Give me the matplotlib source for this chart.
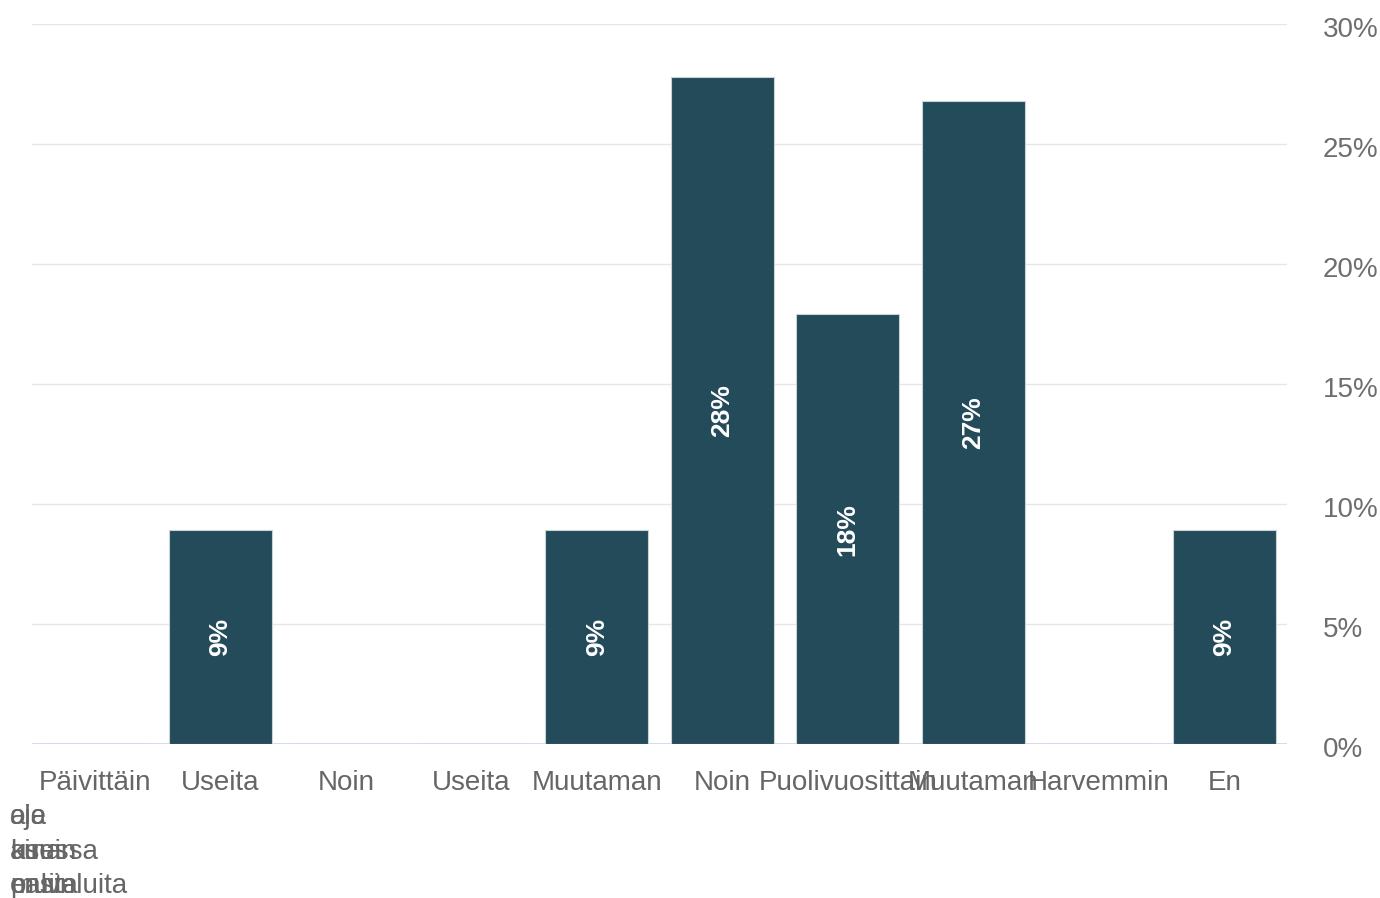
import matplotlib.pyplot as plt
import matplotlib.transforms as mtransforms

plt.rcParams['font.family'] = ['Liberation Sans', 'DejaVu Sans']

# data
luokat = ["Päivittäin", "Useita", "Noin", "Useita", "Muutaman",
          "Noin", "Puolivuosittain", "Muutaman", "Harvemmin", "En"]
osuudet = [0, 8.9, 0, 0, 8.9, 27.8, 17.9, 26.8, 0, 8.9]
tikit = [0, 5, 10, 15, 20, 25, 30]
# jatkorivit, jotka piirtyvät päällekkäin vasempaan reunaan
rivi2 = ["ole", "aja"]
rivi3 = ["usein", "aina", "kuussa"]
rivi4 = ["ensin", "muita", "palveluita"]

vari_palkki = '#234b5a'
vari_teksti = '#666666'

fig = plt.figure(figsize=(13.8, 8.98), dpi=100)
ax = fig.add_axes([32/1380, 1-744/898, (1287-32)/1380, (744-24)/898])

x = list(range(len(luokat)))
palkit = ax.bar(x, osuudet, width=0.82, color=vari_palkki,
                edgecolor='#c8d3d8', linewidth=0.8, zorder=3)

# arvot palkkien sisään
for xi, v in zip(x, osuudet):
    if v > 0:
        ax.text(xi, v / 2, f"{round(v):.0f}%", rotation=90, ha='center',
                va='center', color='white', fontsize=19, fontweight='bold',
                zorder=4)

ax.set_xlim(-0.5, len(luokat) - 0.5)
ax.set_ylim(0, 30)
ax.set_yticks(tikit)
ax.set_yticklabels([f"{t}%" for t in tikit])
ax.yaxis.tick_right()
ax.tick_params(axis='y', length=0, pad=26, labelsize=20, labelcolor='#6e6e6e')
siirto = mtransforms.ScaledTranslation(0, -3/100, fig.dpi_scale_trans)
for lbl in ax.get_yticklabels():
    lbl.set_horizontalalignment('left')
    lbl.set_transform(lbl.get_transform() + siirto)
ax.grid(axis='y', color='#e6e6e6', linewidth=1, zorder=0)
ax.axhline(0, color='#ccd6eb', linewidth=1.2, zorder=2)

ax.set_xticks(x)
ax.set_xticklabels(luokat)
ax.tick_params(axis='x', length=0, pad=19, labelsize=20, labelcolor=vari_teksti)

for s in ax.spines.values():
    s.set_visible(False)

for y, rivi in zip([817, 852, 886], [rivi2, rivi3, rivi4]):
    for sana in rivi:
        fig.text(10/1380, 1 - y/898, sana, ha='left', va='center',
                 fontsize=20, color=vari_teksti)

fig.savefig('out.png', dpi=100)
